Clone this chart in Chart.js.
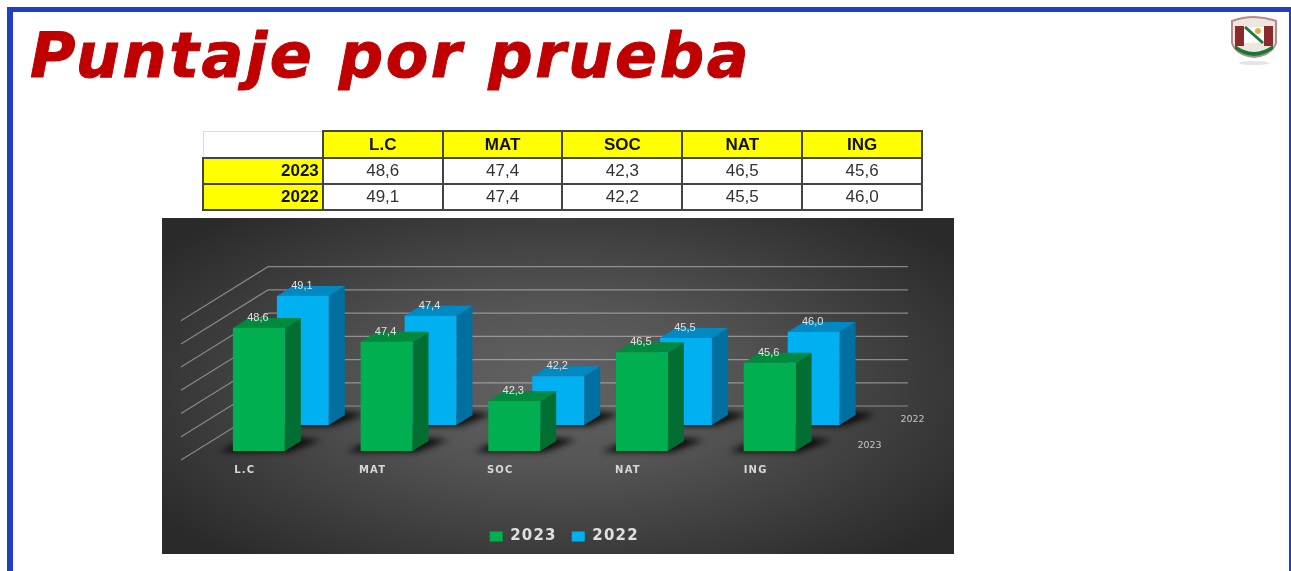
<!DOCTYPE html>
<html lang="es">
<head>
<meta charset="utf-8">
<title>Puntaje por prueba</title>
<script src="https://cdn.jsdelivr.net/npm/chart.js@4"></script>
<style>
html,body{margin:0;padding:0;background:#fff;width:1291px;height:571px;overflow:hidden}
#frame{position:absolute;left:7px;top:7px;width:1288px;height:700px;box-sizing:border-box;border:6px solid #1f3fc6;border-top-width:5px}
#title{position:absolute;left:30px;top:14px;font:italic 700 62px "DejaVu Sans",sans-serif;color:#c00000;white-space:nowrap;line-height:84px;letter-spacing:2.6px;-webkit-text-stroke:1px #c00000;filter:blur(.4px)}
#logo{position:absolute;left:1228px;top:13px;filter:blur(.7px)}
table{position:absolute;left:202px;top:130px;border-collapse:collapse;table-layout:fixed;width:721px;height:80px;font:17px "Liberation Sans",Arial,sans-serif;color:#333;filter:blur(.45px)}
td,th{border:2px solid #444;padding:0;text-align:center;height:24px;overflow:hidden}
tr:first-child th{height:25px}
th{background:#ff0;color:#111;font-weight:700}
th.row{text-align:right;padding-right:3px}
th.corner{background:#fff;border:1px solid #ddd;border-right:2px solid #444;border-bottom:2px solid #444}
#wrap{position:absolute;left:162px;top:218px;width:792px;height:336px;background:radial-gradient(ellipse 62% 68% at 50% 50%,#636363 0%,#555 35%,#3a3a3a 75%,#2a2a2a 100%);filter:blur(.6px)}
canvas{display:block}
</style>
</head>
<body>
<div id="frame"></div>
<div id="title">Puntaje por prueba</div>
<svg id="logo" width="52" height="54" viewBox="0 0 52 54">
<path d="M4 8 Q26 0 48 8 L48 30 Q44 42 26 44 Q8 42 4 30Z" fill="#efe6e0" stroke="#b58a8a" stroke-width="2"/>
<rect x="7" y="13" width="9" height="20" fill="#8a2a2a"/><rect x="36" y="13" width="9" height="20" fill="#8a2a2a"/>
<rect x="16" y="14" width="20" height="16" fill="#fff"/>
<path d="M17 14 L35 30" stroke="#1f7a3a" stroke-width="3"/>
<circle cx="30" cy="18" r="3" fill="#e0b040"/>
<path d="M7 32 Q26 46 45 32 L45 36 Q26 50 7 36Z" fill="#137a35"/>
<ellipse cx="26" cy="50" rx="15" ry="2" fill="#e4e4e4"/>
</svg>
<table id="tbl"></table>
<div id="wrap"><canvas id="c" width="792" height="336"></canvas></div>
<script>
const categories = ["L.C", "MAT", "SOC", "NAT", "ING"];
const seriesLabels = ["2023", "2022"];
const values2023 = [48.6, 47.4, 42.3, 46.5, 45.6];
const values2022 = [49.1, 47.4, 42.2, 45.5, 46.0];
const fmt = v => v.toFixed(1).replace(".", ",");

// table
const tbl = document.getElementById("tbl");
let html = '<tr><th class="corner"></th>' + categories.map(c => "<th>" + c + "</th>").join("") + "</tr>";
[[seriesLabels[0], values2023], [seriesLabels[1], values2022]].forEach(r => {
  html += '<tr><th class="row">' + r[0] + "</th>" + r[1].map(v => "<td>" + fmt(v) + "</td>").join("") + "</tr>";
});
tbl.innerHTML = html;

const DEPTH_X = 16, DEPTH_Y = 10;
const sideColors = ["#006f31", "#0070a0"];
const topColors = ["#008a3e", "#0089c2"];

const scene = {
  id: "scene",
  beforeLayout(chart) { chart.ctx.letterSpacing = "1.2px"; },
  afterLayout(chart) { chart.legend.left += 28; chart.legend.right += 28; },
  beforeDraw(chart) { chart.ctx.letterSpacing = "1.2px"; },
  beforeDatasetsDraw(chart) {
    const ctx = chart.ctx, y = chart.scales.y, x = chart.scales.x;
    ctx.save();
    // perspective grid
    ctx.strokeStyle = "rgba(215,215,215,.5)";
    ctx.lineWidth = 1.2;
    y.ticks.filter(t => t.value <= 50).forEach(t => {
      const p = y.getPixelForValue(t.value);
      ctx.beginPath();
      ctx.moveTo(19, p + 9);
      ctx.lineTo(106, p - 45);
      ctx.lineTo(746, p - 45);
      ctx.stroke();
    });
    // floor shadows
    ctx.filter = "blur(3px)";
    ctx.fillStyle = "rgba(0,0,0,.85)";
    chart.data.datasets.forEach((d, i) => {
      chart.getDatasetMeta(i).data.forEach(b => {
        const L = b.x - b.width / 2, R = b.x + b.width / 2, B = b.base;
        ctx.beginPath();
        ctx.moveTo(L - 14, B + 1);
        ctx.lineTo(R + 4, B + 1);
        ctx.lineTo(R + DEPTH_X + 20, B - 11);
        ctx.lineTo(R + DEPTH_X, B - 13);
        ctx.lineTo(L, B - 6);
        ctx.closePath();
        ctx.fill();
      });
    });
    ctx.restore();
    // depth axis labels
    ctx.save();
    ctx.letterSpacing = "0px";
    ctx.font = '9.5px "DejaVu Sans",sans-serif';
    ctx.fillStyle = "#c4c4c4";
    ctx.textAlign = "center";
    ctx.textBaseline = "middle";
    ctx.fillText(seriesLabels[0], x.right + 14, y.getPixelForValue(38) - 5);
    ctx.fillText(seriesLabels[1], x.right + 57, y.getPixelForValue(38) - 31);
    ctx.restore();
  },
  beforeDatasetDraw(chart, args) {
    const ctx = chart.ctx, i = args.index;
    ctx.save();
    args.meta.data.forEach(b => {
      const R = b.x + b.width / 2, L = b.x - b.width / 2;
      ctx.fillStyle = sideColors[i];
      ctx.beginPath();
      ctx.moveTo(R, b.y); ctx.lineTo(R + DEPTH_X, b.y - DEPTH_Y);
      ctx.lineTo(R + DEPTH_X, b.base - DEPTH_Y); ctx.lineTo(R, b.base);
      ctx.closePath(); ctx.fill();
      ctx.fillStyle = topColors[i];
      ctx.beginPath();
      ctx.moveTo(L, b.y); ctx.lineTo(L + DEPTH_X, b.y - DEPTH_Y);
      ctx.lineTo(R + DEPTH_X, b.y - DEPTH_Y); ctx.lineTo(R, b.y);
      ctx.closePath(); ctx.fill();
    });
    ctx.restore();
  },
  afterDatasetDraw(chart, args) {
    const ctx = chart.ctx;
    ctx.save();
    ctx.letterSpacing = "0px";
    ctx.font = '11px "Liberation Sans",Arial,sans-serif';
    ctx.fillStyle = "#e2e2e2";
    ctx.textAlign = "center";
    ctx.textBaseline = "middle";
    const vals = chart.data.datasets[args.index].data;
    args.meta.data.forEach((b, k) => ctx.fillText(fmt(vals[k]), b.x - 1, b.y - 10));
    ctx.restore();
  }
};

new Chart(document.getElementById("c"), {
  type: "bar",
  plugins: [scene],
  data: {
    labels: categories,
    datasets: [
      { label: seriesLabels[0], data: values2023, yAxisID: "y", base: 38, backgroundColor: "#00b050", clip: false },
      { label: seriesLabels[1], data: values2022, yAxisID: "y2", base: 38, backgroundColor: "#00b0f0", clip: false }
    ]
  },
  options: {
    responsive: false,
    animation: false,
    events: [],
    categoryPercentage: 0.689,
    barPercentage: 1.18,
    layout: { padding: { left: 55, right: 98.5, top: 24, bottom: 0 } },
    plugins: {
      title: { display: false },
      tooltip: { enabled: false },
      legend: {
        position: "bottom",
        labels: {
          boxWidth: 13, boxHeight: 10, padding: 15,
          color: "#e0e0e0",
          font: { family: '"DejaVu Sans",sans-serif', weight: "700", size: 15 }
        }
      }
    },
    scales: {
      x: {
        grid: { display: false },
        border: { display: false },
        afterFit(s) { s.height = 63; },
        ticks: {
          color: "#d8d8d8", labelOffset: -36, padding: 5, maxRotation: 0, autoSkip: false,
          font: { family: '"DejaVu Sans",sans-serif', weight: "700", size: 10 }
        }
      },
      y: { display: false, min: 38, max: 56, ticks: { stepSize: 2 } },
      y2: { display: false, min: 35.76, max: 53.76 }
    }
  }
});
</script>
</body>
</html>
